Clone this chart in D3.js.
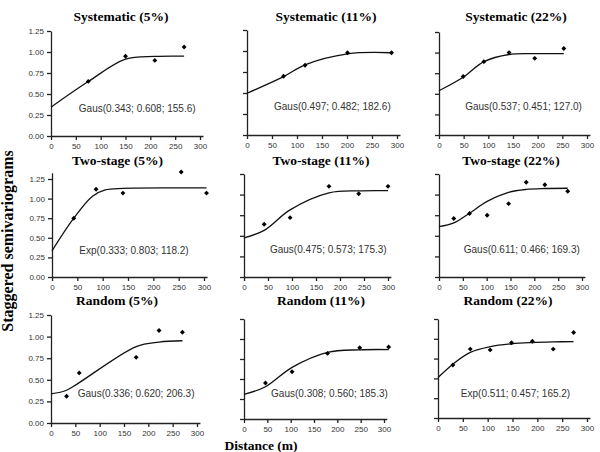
<!DOCTYPE html>
<html lang="en">
<head>
<meta charset="UTF-8">
<title>Staggered semivariograms</title>
<script src="https://cdn.jsdelivr.net/npm/d3@7"></script>
<style>
    body { margin: 0; background: #fff; }
    .tick text { font-family: "Liberation Sans", Arial, sans-serif; font-size: 8px; fill: #333; }
    .panel-title, .axis-title { font-family: "Liberation Serif", "Times New Roman", serif; font-weight: bold; fill: #000; }
    .model { font-family: "Liberation Sans", Arial, sans-serif; font-size: 10px; fill: #333; }
</style>
</head>
<body>
<div id="chart"></div>
<script>
// panel titles and fitted model labels, row by row
const titles = ["Systematic (5%)", "Systematic (11%)", "Systematic (22%)",
                "Two-stage (5%)", "Two-stage (11%)", "Two-stage (22%)",
                "Random (5%)", "Random (11%)", "Random (22%)"];
const models = ["Gaus(0.343; 0.608; 155.6)", "Gaus(0.497; 0.482; 182.6)", "Gaus(0.537; 0.451; 127.0)",
                "Exp(0.333; 0.803; 118.2)", "Gaus(0.475; 0.573; 175.3)", "Gaus(0.611; 0.466; 169.3)",
                "Gaus(0.336; 0.620; 206.3)", "Gaus(0.308; 0.560; 185.3)", "Exp(0.511; 0.457; 165.2)"];

// experimental semivariogram points (lag distance, semivariance)
const obsDist = [
    [75, 150, 209, 268],
    [73, 116, 201, 289],
    [49, 91, 142, 194, 253],
    [43, 87, 140, 255, 305],
    [42, 96, 177, 239, 300],
    [31, 64, 101, 146, 183, 222, 270],
    [32, 58, 175, 222, 270],
    [46, 103, 179, 248, 310],
    [30, 65, 105, 148, 190, 232, 273]
];
const obsGamma = [
    [0.65, 0.95, 0.90, 1.06],
    [0.70, 0.83, 0.98, 0.98],
    [0.71, 0.89, 1.00, 0.93, 1.05],
    [0.75, 1.12, 1.07, 1.34, 1.07],
    [0.64, 0.72, 1.10, 1.01, 1.10],
    [0.71, 0.77, 0.75, 0.89, 1.15, 1.12, 1.04],
    [0.31, 0.58, 0.76, 1.07, 1.05],
    [0.45, 0.59, 0.82, 0.89, 0.90],
    [0.67, 0.87, 0.86, 0.95, 0.97, 0.87, 1.08]
];

// fitted model line
const fitDist = [
    [0, 75, 150, 209, 268],
    [0, 73, 116, 201, 289],
    [0, 49, 91, 142, 194, 253],
    [0, 43, 80, 105, 140, 255, 305],
    [0, 42, 96, 177, 239, 300],
    [0, 31, 64, 101, 146, 183, 222, 270],
    [0, 32, 58, 175, 222, 270],
    [0, 46, 103, 179, 248, 310],
    [0, 30, 65, 105, 148, 190, 232, 273]
];
const fitGamma = [
    [0.343, 0.648, 0.914, 0.948, 0.951],
    [0.497, 0.695, 0.835, 0.966, 0.979],
    [0.537, 0.700, 0.890, 0.977, 0.987, 0.988],
    [0.333, 0.750, 1.030, 1.110, 1.130, 1.136, 1.136],
    [0.475, 0.566, 0.815, 1.021, 1.046, 1.048],
    [0.611, 0.656, 0.774, 0.917, 1.027, 1.063, 1.074, 1.077],
    [0.336, 0.379, 0.467, 0.885, 0.937, 0.952],
    [0.308, 0.403, 0.646, 0.834, 0.865, 0.868],
    [0.511, 0.680, 0.828, 0.900, 0.937, 0.953, 0.961, 0.965]
];

const xTicks = [0, 50, 100, 150, 200, 250, 300];
const yTicks = [0, 0.25, 0.5, 0.75, 1.0, 1.25];

// layout: pixel box of each panel [x at 0, x at 300, y at 1.25, y at 0]
const boxes = [
    [51, 200, 31, 136], [247, 397, 30, 135], [439, 587, 32, 135],
    [52, 204, 179, 277], [244, 388, 174, 277], [439, 582, 174, 277],
    [51, 197, 315, 423], [244, 384, 319, 419], [438, 587, 319, 418]
];
// title centre (px) and model label anchor (data units)
const titlePos = [[121, 20.5], [326, 20.5], [516, 20.5],
                  [117.5, 164.5], [321, 164.5], [511, 164.5],
                  [117, 304.5], [321, 304.5], [508, 304.5]];
const labelPos = [[56, 0.29], [54, 0.30], [53, 0.30],
                  [54, 0.29], [54, 0.29], [52, 0.29],
                  [55, 0.30], [58, 0.28], [46, 0.27]];

const svg = d3.select("#chart")
    .append("svg")
    .attr("width", 600)
    .attr("height", 452);

boxes.forEach((b, i) => {
    const col = i % 3;
    const x = d3.scaleLinear().domain([0, 300]).range([b[0], b[1]]);
    const y = d3.scaleLinear().domain([0, 1.25]).range([b[3], b[2]]);
    const yMax = i === 3 ? 1.33 : 1.25;
    const xAxisScale = d3.scaleLinear().domain([0, 306]).range([x(0), x(306)]);
    const yAxisScale = d3.scaleLinear().domain([0, yMax]).range([y(0), y(yMax)]);

    const g = svg.append("g");

    g.append("g")
        .attr("transform", "translate(0," + y(0) + ")")
        .call(d3.axisBottom(xAxisScale).tickValues(xTicks).tickSize(4).tickSizeOuter(0).tickPadding(3)
            .tickFormat(d3.format("d")))
        .call(a => a.selectAll("path, line").attr("stroke", "#222").attr("stroke-width", 1.3));

    g.append("g")
        .attr("transform", "translate(" + x(0) + ",0)")
        .call(d3.axisLeft(yAxisScale).tickValues(yTicks).tickSize(4).tickSizeOuter(0).tickPadding(3)
            .tickFormat(col === 0 ? d3.format(".2f") : () => ""))
        .call(a => a.selectAll("path, line").attr("stroke", "#222").attr("stroke-width", 1.3));

    const fit = fitDist[i].map((d, k) => [d, fitGamma[i][k]]);
    g.append("path")
        .datum(fit)
        .attr("fill", "none")
        .attr("stroke", "#111")
        .attr("stroke-width", 1.3)
        .attr("d", d3.line().x(d => x(d[0])).y(d => y(d[1])).curve(d3.curveCatmullRom));

    const obs = obsDist[i].map((d, k) => [d, obsGamma[i][k]]);
    g.selectAll(".pt")
        .data(obs)
        .enter()
        .append("path")
        .attr("d", d3.symbol(d3.symbolSquare, 12))
        .attr("transform", d => "translate(" + x(d[0]) + "," + y(d[1]) + ") rotate(45)")
        .attr("fill", "#000");

    g.append("text")
        .attr("class", "model")
        .attr("x", x(labelPos[i][0]))
        .attr("y", y(labelPos[i][1]))
        .text(models[i]);

    g.append("text")
        .attr("class", "panel-title")
        .attr("x", titlePos[i][0])
        .attr("y", titlePos[i][1])
        .attr("text-anchor", "middle")
        .style("font-size", "13.5px")
        .text(titles[i]);
});

svg.append("text")
    .attr("class", "axis-title")
    .attr("transform", "translate(13,241) rotate(-90)")
    .attr("text-anchor", "middle")
    .style("font-size", "16px")
    .text("Staggered semivariograms");

svg.append("text")
    .attr("class", "axis-title")
    .attr("x", 261)
    .attr("y", 450)
    .attr("text-anchor", "middle")
    .style("font-size", "13.5px")
    .text("Distance (m)");
</script>
</body>
</html>
